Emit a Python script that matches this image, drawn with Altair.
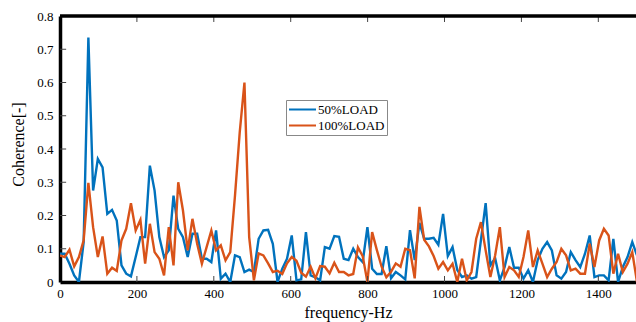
import altair as alt
import pandas as pd

# frequency bins (Hz) -- uniform FFT grid
step_hz = 12.3
n_bins = 123
freq = [round(i * step_hz, 2) for i in range(n_bins)]

load50 = [0.085, 0.085, 0.055, 0.02, 0.0, 0.12, 0.735, 0.275, 0.37, 0.345,
          0.205, 0.217, 0.185, 0.05, 0.025, 0.017, 0.075, 0.135, 0.135, 0.35,
          0.275, 0.135, 0.075, 0.095, 0.26, 0.16, 0.135, 0.075, 0.145, 0.145,
          0.07, 0.07, 0.06, 0.155, 0.01, 0.025, 0.0, 0.08, 0.075, 0.03,
          0.037, 0.03, 0.13, 0.155, 0.157, 0.115, 0.0, 0.04, 0.07, 0.14,
          0.005, 0.008, 0.15, 0.02, 0.014, 0.005, 0.105, 0.10, 0.138, 0.136,
          0.07, 0.066, 0.10, 0.075, 0.06, 0.165, 0.04, 0.024, 0.024, 0.108,
          0.011, 0.03, 0.02, 0.008, 0.156, 0.066, 0.178, 0.13, 0.13, 0.133,
          0.112, 0.205, 0.078, 0.105, 0.036, 0.015, 0.02, 0.01, 0.015, 0.126,
          0.237, 0.05, 0.072, 0.005, 0.045, 0.105, 0.043, 0.043, 0.01, 0.035,
          0.0, 0.066, 0.1, 0.12, 0.095, 0.02, 0.01, 0.03, 0.09, 0.066,
          0.045, 0.085, 0.14, 0.015, 0.02, 0.02, 0.005, 0.13, 0.0, 0.045,
          0.075, 0.12, 0.08]

load100 = [0.08, 0.075, 0.097, 0.047, 0.075, 0.125, 0.298, 0.165, 0.075, 0.137,
           0.025, 0.043, 0.033, 0.125, 0.16, 0.237, 0.155, 0.187, 0.055, 0.175,
           0.09, 0.07, 0.02, 0.165, 0.05, 0.30, 0.215, 0.095, 0.19, 0.115,
           0.055, 0.105, 0.155, 0.095, 0.11, 0.065, 0.09, 0.26, 0.45, 0.60,
           0.135, 0.005, 0.086, 0.08, 0.056, 0.03, 0.034, 0.024, 0.056, 0.075,
           0.064, 0.028, 0.016, 0.046, 0.011, 0.048, 0.046, 0.026, 0.058, 0.03,
           0.03, 0.02, 0.024, 0.104, 0.078, 0.0, 0.15, 0.096, 0.046, 0.014,
           0.031, 0.056, 0.046, 0.10, 0.096, 0.011, 0.226, 0.127, 0.107, 0.078,
           0.04, 0.06, 0.035, 0.055, 0.0, 0.07, 0.005, 0.03, 0.13, 0.18,
           0.095, 0.015, 0.08, 0.165, 0.015, 0.045, 0.035, 0.015, 0.075, 0.155,
           0.045, 0.095, 0.055, 0.015, 0.04, 0.06, 0.1, 0.08, 0.035, 0.04,
           0.025, 0.025, 0.115, 0.045, 0.125, 0.16, 0.14, 0.025, 0.085, 0.03,
           0.055, 0.09, 0.0]

series_names = ["50%LOAD", "100%LOAD"]
series_colors = ["#0072BD", "#D95319"]

x_ticks = [0, 200, 400, 600, 800, 1000, 1200, 1400]
y_ticks = [0, 0.1, 0.2, 0.3, 0.4, 0.5, 0.6, 0.7, 0.8]

df = pd.DataFrame({
    "freq": freq * 2,
    "value": load50 + load100,
    "series": [series_names[0]] * len(freq) + [series_names[1]] * len(freq),
})

FONT = "Liberation Serif"
x_dom = [0, 1498]
y_dom = [0, 0.8]
FRAME_W = 3.5

xs = alt.Scale(domain=x_dom, nice=False, zero=False)
ys = alt.Scale(domain=y_dom, nice=False)
cs = alt.Scale(domain=series_names, range=series_colors)

x_axis = alt.Axis(
    values=x_ticks, title="frequency-Hz", labelFontSize=13, titleFontSize=16,
    labelPadding=5, titleY=22, titleBaseline="top", labelFlush=False,
    format="d", labelOverlap=False, ticks=False, grid=False,
    domainWidth=FRAME_W, domainColor="black")
y_axis = alt.Axis(
    values=y_ticks, title="Coherence[-]", labelFontSize=13, titleFontSize=16,
    labelPadding=7, format="~g", labelOverlap=False, titleX=-34, titleY=128,
    ticks=False, grid=False, domainWidth=FRAME_W, domainColor="black")

def line_layer(name):
    return alt.Chart(df).transform_filter(alt.datum.series == name).mark_line(
        strokeWidth=2.4, clip=True
    ).encode(
        x=alt.X("freq:Q", scale=xs, axis=x_axis),
        y=alt.Y("value:Q", scale=ys, axis=y_axis),
        color=alt.Color("series:N", scale=cs, sort=series_names, legend=alt.Legend(
            title=None, orient="none", legendX=226, legendY=84,
            symbolType="stroke", symbolSize=729, symbolStrokeWidth=2,
            labelFontSize=13, labelFont=FONT, labelOffset=1, labelColor="black",
            strokeColor="#888888", padding=2, rowPadding=1, clipHeight=15,
            fillColor="white", symbolOffset=0)),
    )

xt_df = pd.DataFrame({"t": x_ticks[1:]})
yt_df = pd.DataFrame({"t": y_ticks[1:-1]})
top_df = pd.DataFrame({"t": [y_dom[1]]})

tick_bottom = alt.Chart(xt_df).mark_rule(color="#444444", strokeWidth=1).encode(
    x=alt.X("t:Q", scale=xs, axis=x_axis), y=alt.datum(0, scale=ys, axis=y_axis),
    y2=alt.datum(0.018))
tick_top = alt.Chart(xt_df).mark_rule(color="#444444", strokeWidth=1).encode(
    x=alt.X("t:Q", scale=xs, axis=x_axis), y=alt.datum(0.8, scale=ys, axis=y_axis),
    y2=alt.datum(0.782))
tick_left = alt.Chart(yt_df).mark_rule(color="#444444", strokeWidth=1).encode(
    y=alt.Y("t:Q", scale=ys, axis=y_axis), x=alt.datum(0, scale=xs, axis=x_axis),
    x2=alt.datum(16))
top_border = alt.Chart(top_df).mark_rule(color="black", strokeWidth=FRAME_W).encode(
    y=alt.Y("t:Q", scale=ys, axis=y_axis))

chart = alt.layer(
    line_layer("50%LOAD"), line_layer("100%LOAD"),
    tick_bottom, tick_top, tick_left, top_border,
).properties(
    width=576, height=266,
    padding={"left": 60, "top": 16, "right": 0, "bottom": 40},
    autosize=alt.AutoSizeParams(type="none"),
    background="white",
).configure_view(stroke=None).configure_axis(
    labelFont=FONT, titleFont=FONT, labelColor="black", titleColor="black",
    titleFontWeight="normal",
)

chart.save("out.html", embed_options={"renderer": "svg", "actions": False})
